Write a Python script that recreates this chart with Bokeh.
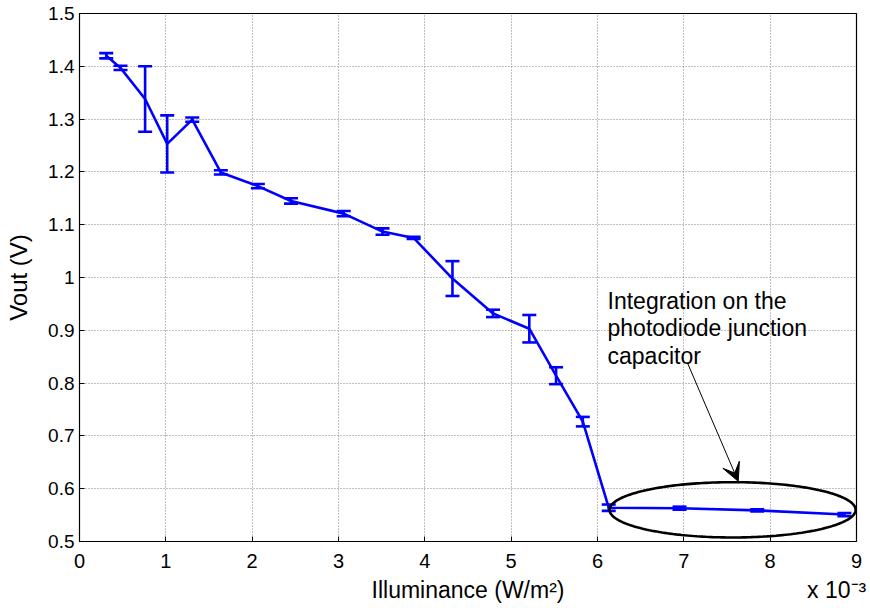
import numpy as np
from bokeh.plotting import figure
from bokeh.models import (ColumnDataSource, Whisker, TeeHead, FixedTicker, LinearAxis,
                          Label, Arrow, VeeHead, PolyAnnotation)
from bokeh.embed import file_html
from bokeh.resources import INLINE

# ---- data (illuminance in units of 1e-3 W/m^2) ----
illuminance_e3 = [0.31, 0.475, 0.76, 1.016, 1.306, 1.637, 2.066, 2.45, 3.06, 3.51,
                  3.87, 4.32, 4.79, 5.21, 5.52, 5.83, 6.13, 6.95, 7.85, 8.86]
vout = [1.420, 1.397, 1.338, 1.253, 1.299, 1.199, 1.173, 1.145, 1.121, 1.087,
        1.075, 0.998, 0.932, 0.903, 0.814, 0.727, 0.564, 0.563, 0.559, 0.551]
vout_err = [0.005, 0.004, 0.062, 0.054, 0.004, 0.004, 0.004, 0.005, 0.005, 0.006,
            0.002, 0.033, 0.007, 0.026, 0.016, 0.009, 0.006, 0.003, 0.002, 0.003]

x_ticks = [0, 1, 2, 3, 4, 5, 6, 7, 8, 9]
x_tick_labels = ["0", "1", "2", "3", "4", "5", "6", "7", "8", "9"]
y_ticks = [0.5, 0.6, 0.7, 0.8, 0.9, 1.0, 1.1, 1.2, 1.3, 1.4, 1.5]
y_tick_labels = ["0.5", "0.6", "0.7", "0.8", "0.9", "1", "1.1", "1.2", "1.3", "1.4", "1.5"]

# bottom text row: axis title and the x-scale multiplier
x_title = "Illuminance (W/m²)"
x_multiplier = "x 10⁻³"
x_title_pos = 4.5
x_multiplier_pos = 8.77

annotation_lines = ["Integration on the", "photodiode junction", "capacitor"]
annotation_x = 6.116
annotation_y = [0.955, 0.905, 0.852]
arrow_start = (7.04, 0.839)
arrow_end = (7.63, 0.614)
ellipse_center = (7.565, 0.560)
ellipse_size = (2.85, 0.1047)

FONT = "Liberation Sans"

src = ColumnDataSource(dict(
    x=illuminance_e3, y=vout,
    upper=[v + e for v, e in zip(vout, vout_err)],
    lower=[v - e for v, e in zip(vout, vout_err)],
))

p = figure(width=868, height=606, x_range=(0, 9), y_range=(0.5, 1.5),
           output_backend="svg", toolbar_location=None,
           min_border_left=79, min_border_right=12, min_border_top=13, min_border_bottom=65)
p.background_fill_color = "white"
p.border_fill_color = "white"
p.outline_line_color = "black"
p.outline_line_width = 1.2

p.line("x", "y", source=src, line_color="#0000FF", line_width=2.6)
wh = Whisker(source=src, base="x", upper="upper", lower="lower",
             line_color="#0000FF", line_width=2.6,
             upper_head=TeeHead(size=14, line_color="#0000FF", line_width=2.6),
             lower_head=TeeHead(size=14, line_color="#0000FF", line_width=2.6))
p.add_layout(wh)

# axes styling
for ax, ticks, labels, fs, so in ((p.xaxis[0], x_ticks, x_tick_labels, "20px", 12),
                                   (p.yaxis[0], y_ticks, y_tick_labels, "19px", 5)):
    ax.ticker = FixedTicker(ticks=ticks)
    ax.major_label_overrides = {t: l for t, l in zip(ticks, labels)}
    ax.major_tick_in = 5
    ax.major_tick_out = 0
    ax.minor_tick_line_color = None
    ax.axis_line_color = "black"
    ax.major_tick_line_color = "black"
    ax.major_label_text_font = FONT
    ax.major_label_text_font_size = fs
    ax.major_label_text_color = "black"
    ax.major_label_standoff = so
    ax.axis_label_text_font = FONT
    ax.axis_label_text_font_style = "normal"
    ax.axis_label_text_color = "black"

p.yaxis.axis_label = "Vout (V)"
p.yaxis.axis_label_text_font_size = "24px"
p.yaxis.axis_label_standoff = 13

# second row below the x axis: title and multiplier on one line
title_row = LinearAxis(ticker=FixedTicker(ticks=[x_title_pos, x_multiplier_pos]),
                       major_label_overrides={x_title_pos: x_title,
                                              x_multiplier_pos: x_multiplier},
                       axis_line_color=None, major_tick_line_color=None,
                       minor_tick_line_color=None, major_tick_in=0, major_tick_out=0,
                       major_label_standoff=6, major_label_text_font=FONT,
                       major_label_text_font_size="23px", major_label_text_color="black")
p.add_layout(title_row, "below")

# grid
for g in (p.xgrid[0], p.ygrid[0]):
    g.grid_line_color = "#808080"
    g.grid_line_dash = "1 2"
    g.grid_line_width = 1
p.xgrid.ticker = FixedTicker(ticks=x_ticks)
p.ygrid.ticker = FixedTicker(ticks=y_ticks)

# annotation text
for txt, yy in zip(annotation_lines, annotation_y):
    p.add_layout(Label(x=annotation_x, y=yy, text=txt, text_font=FONT,
                       text_font_size="23px", text_color="black",
                       text_baseline="alphabetic", text_align="left"))

# arrow
p.add_layout(Arrow(x_start=arrow_start[0], y_start=arrow_start[1],
                   x_end=arrow_end[0], y_end=arrow_end[1],
                   line_color="black", line_width=1,
                   end=VeeHead(size=18, fill_color="black", line_color="black")))

# ellipse
th = np.linspace(0, 2 * np.pi, 240)
ex = ellipse_center[0] + ellipse_size[0] / 2 * np.cos(th)
ey = ellipse_center[1] + ellipse_size[1] / 2 * np.sin(th)
p.add_layout(PolyAnnotation(xs=list(ex), ys=list(ey), fill_alpha=0, fill_color=None,
                            line_color="black", line_alpha=1.0, line_width=2.6))

open("out.html", "w").write(file_html(p, INLINE))
